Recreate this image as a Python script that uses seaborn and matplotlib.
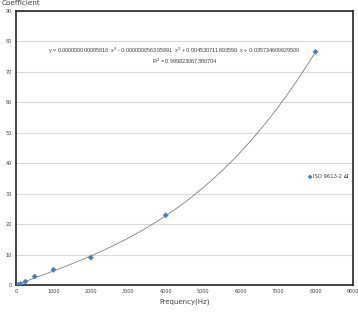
import numpy as np
import pandas as pd
import matplotlib
matplotlib.use("Agg")
import matplotlib.pyplot as plt
import seaborn as sns

# Data (ISO 9613-2 values)
freqs = [63, 125, 250, 500, 1000, 2000, 4000, 8000]
coeffs = [0.1, 0.3, 1.1, 2.8, 5.0, 9.0, 22.9, 76.6]
# Trendline polynomial coefficients as displayed (x^3, x^2, x, const)
poly = [0.000000000085818, -0.000000056395991, 0.004530711893550, 0.035734609929500]
x_ticks = list(range(0, 9001, 1000))
y_ticks = list(range(0, 91, 10))

sns.set_style("white")
plt.rcParams['font.family'] = ['DejaVu Sans', 'Noto Sans CJK KR']

fig = plt.figure(figsize=(3.58, 3.15), dpi=100)
ax = fig.add_axes([0.0447, 0.0952, 0.9413, 0.870])

xs = np.linspace(0, 8000, 200)
fit = pd.DataFrame({"x": xs, "y": np.polyval(poly, xs)})
sns.lineplot(data=fit, x="x", y="y", ax=ax, color="#7f7f7f", lw=0.6, legend=False)

df = pd.DataFrame({"Frequency": freqs, "Coefficient": coeffs})
sns.scatterplot(data=df, x="Frequency", y="Coefficient", ax=ax, marker="D",
                color="#4a7ebb", s=9, edgecolor="none", label="ISO 9613-2 값", zorder=5)

ax.set_xlim(0, 9000)
ax.set_ylim(0, 90)
ax.set_xticks(x_ticks)
ax.set_yticks(y_ticks)
ax.tick_params(axis="both", labelsize=3.5, length=0, pad=3, colors="#404040")
ax.yaxis.grid(True, color="#d9d9d9", lw=0.8)
ax.xaxis.grid(False)
for s in ax.spines.values():
    s.set_color("#262626")
    s.set_linewidth(1.2)
ax.set_xlabel("Frequency(Hz)", fontsize=5, color="#404040", labelpad=3)
ax.set_ylabel("")

leg = ax.legend(loc="center left", bbox_to_anchor=(0.865, 0.395), frameon=False,
                fontsize=3.8, handletextpad=0.05, markerscale=0.8, borderpad=0,
                borderaxespad=0, handlelength=1.0)
for t in leg.get_texts():
    t.set_color("#404040")

ax.text(0.47, 0.855, "y = 0.000000000085818  x$^3$ - 0.000000056395991  x$^2$ + 0.004530711893550  x + 0.035734609929500",
        transform=ax.transAxes, fontsize=3.95, ha="center", va="center", color="#404040",
        family=["Liberation Sans", "DejaVu Sans"])
ax.text(0.50, 0.815, "R$^2$ = 0.999823067380704", transform=ax.transAxes, fontsize=3.95,
        ha="center", va="center", color="#404040", family=["Liberation Sans", "DejaVu Sans"])

fig.text(0.005, 0.999, "Coefficient", fontsize=5.2, ha="left", va="top", color="#404040")

fig.savefig("out.png", dpi=100)
